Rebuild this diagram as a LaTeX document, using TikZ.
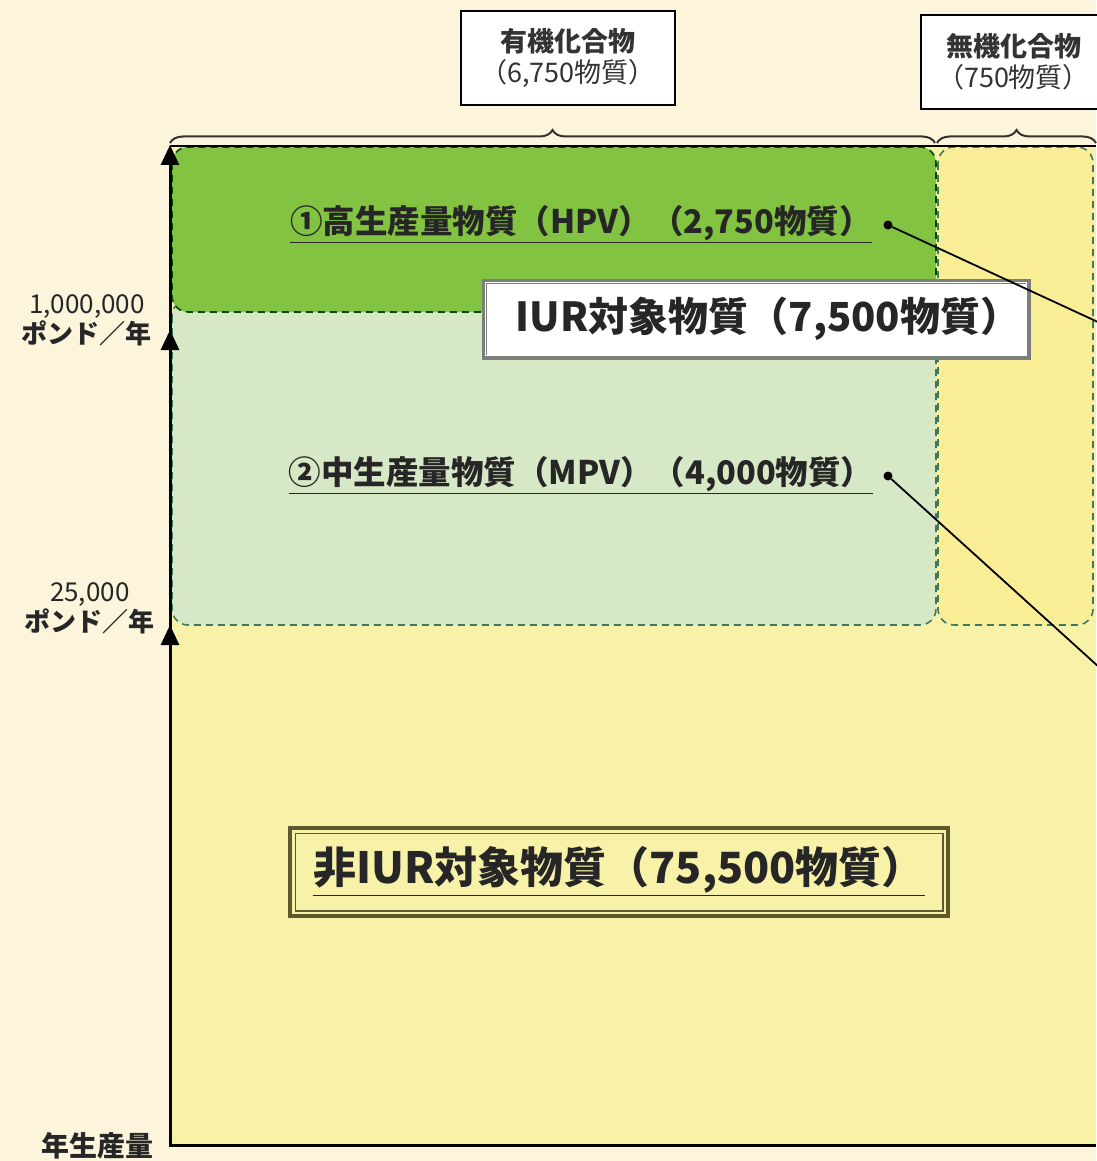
\documentclass[tikz,border=0pt]{standalone}
\usepackage{fontspec}
\setmainfont{Noto Sans CJK JP}
\usetikzlibrary{arrows.meta,decorations.pathreplacing,calc}
\definecolor{bgcream}{HTML}{FCF5DC}
\definecolor{lyellow}{HTML}{F8F1A8}
\definecolor{inyellow}{HTML}{F9EE96}
\definecolor{hpvgreen}{HTML}{82C341}
\definecolor{mpvgreen}{HTML}{D6E8C6}
\definecolor{dashgreen}{HTML}{3C7A66}
\definecolor{boxgray}{HTML}{7A7F7A}
\definecolor{olive}{HTML}{5E5A2E}
\tikzset{
  region/.style={dashed,dash pattern=on 7pt off 5pt,draw=dashgreen,line width=1.6pt,rounded corners=16pt},
  labelbox/.style={draw=black,fill=white,line width=2pt,align=center,font=\fontsize{27}{31}\selectfont,text=black!80,inner sep=4pt},
  axislbl/.style={align=center,font=\fontsize{26}{30}\selectfont,text=black!85,inner sep=0pt},
  cat/.style={font=\bfseries\fontsize{32.5}{36}\selectfont,text=black!85,inner sep=1pt},
  tip/.style={-{Triangle[width=18pt,length=20pt]}},
  dotc/.style={circle,fill=black,inner sep=0pt,minimum size=9pt}
}
\begin{document}
\begin{tikzpicture}[x=1pt,y=-1pt]
\useasboundingbox (0,0) rectangle (1096,1161);
\fill[bgcream] (0,0) rectangle (1096,1161);
% main yellow field
\fill[lyellow] (170,145) rectangle (1096,1145);
% inorganic column
\fill[inyellow,rounded corners=16pt] (938,147) rectangle (1093,625);
\draw[region] (938,147) rectangle (1093,625);
% MPV region
\fill[mpvgreen,rounded corners=16pt] (172,300) rectangle (936,625);
\draw[region] (172,300) rectangle (936,625);
% HPV region
\fill[hpvgreen,rounded corners=16pt] (172,147) rectangle (936,312);
\draw[region,draw=black!70!green] (172,147) rectangle (936,312);
% top line
\draw[line width=2pt,black] (170,146) -- (1096,146);
% axis frame
\draw[line width=3pt] (170,330) -- (170,1145) -- (1096,1145);
\coordinate (a0) at (170,1145);
\coordinate (a1) at (170,625);
\coordinate (a2) at (170,330);
\coordinate (a3) at (170,145);
\draw[line width=3pt,tip] (a0) -- (a1);
\draw[line width=3pt,tip] (a1) -- (a2);
\draw[line width=3pt,tip] (a2) -- (a3);
% axis labels
\node[axislbl,anchor=east] (l1) at (152,320) {1,000,000\\\bfseries ポンド／年};
\node[axislbl,anchor=east] (l2) at (155,608) {25,000\\\bfseries ポンド／年};
\node[axislbl,font=\bfseries\fontsize{28}{30}\selectfont] (l3) at (97,1146) {年生産量};
% braces
\draw[decorate,decoration={brace,amplitude=13pt},line width=2pt,black!80] (170,143) -- (935,143);
\draw[decorate,decoration={brace,amplitude=13pt},line width=2pt,black!80] (937,143) -- (1096,143);
% top boxes
\node[labelbox,minimum width=214pt,minimum height=94pt] (org) at (568,58) {\bfseries 有機化合物\\（6,750物質）};
\node[labelbox,minimum width=185pt,minimum height=94pt,anchor=west] (inorg) at (920,62) {\bfseries 無機化合物\\（750物質）};
% IUR box
\node[draw=boxgray,line width=5pt,fill=white,minimum width=544pt,minimum height=76pt,inner sep=0pt] (iur) at (756,319) {};
\draw[white,line width=1pt] ($(iur.south west)+(4,-4)$) rectangle ($(iur.north east)+(-4,4)$);
\node[font=\bfseries\fontsize{40}{44}\selectfont,text=black!85] (iurt) at (768,319) {IUR対象物質（7,500物質）};
% HPV and MPV labels
\node[cat] (hpv) at (581,224) {\underline{①高生産量物質（HPV）（2,750物質）}};
\node[cat] (mpv) at (581,475) {\underline{②中生産量物質（MPV）（4,000物質）}};
\node[dotc] (d1) at (888,225) {};
\node[dotc] (d2) at (888,476) {};
\coordinate (e1) at (1100,323);
\coordinate (e2) at (1100,668);
\draw[line width=1.8pt] (d1) -- (e1);
\draw[line width=1.8pt] (d2) -- (e2);
% non-IUR box
\node[draw=olive,line width=3.5pt,minimum width=658pt,minimum height=88pt,inner sep=0pt] (niur) at (619,872) {};
\draw[olive,line width=1.5pt] ($(niur.south west)+(7,-7)$) rectangle ($(niur.north east)+(-7,7)$);
\node[font=\bfseries\fontsize{43}{48}\selectfont,text=black!85] (niurt) at (619,871) {\underline{非IUR対象物質（75,500物質）}};
\end{tikzpicture}
\end{document}
